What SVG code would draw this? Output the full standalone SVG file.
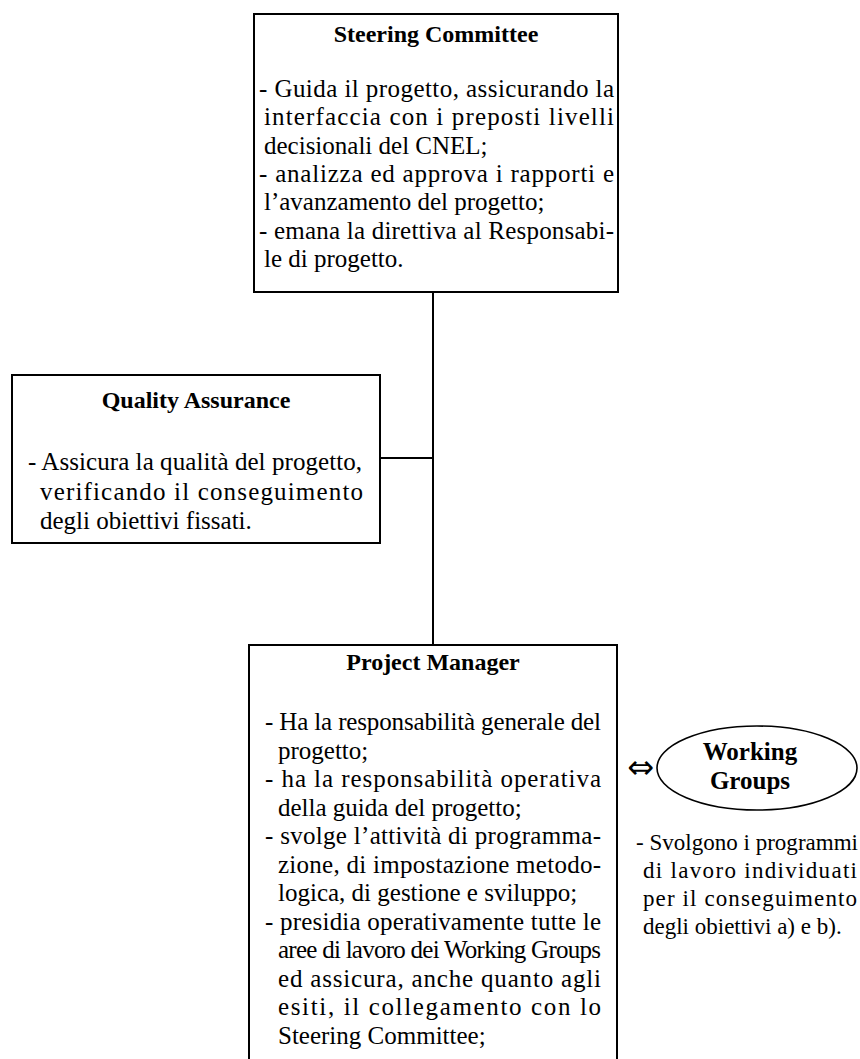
<svg xmlns="http://www.w3.org/2000/svg" width="860" height="1059" viewBox="0 0 860 1059">
<style>
.box{fill:none;stroke:#000;stroke-width:2}
.line{fill:none;stroke:#000;stroke-width:2}
.t{font-family:"Liberation Serif","Times New Roman",serif;font-size:25px;fill:#000}
.h{font-family:"Liberation Serif","Times New Roman",serif;font-size:24px;font-weight:bold;fill:#000;text-anchor:middle}
.w{font-family:"Liberation Serif","Times New Roman",serif;font-size:23px;fill:#000}
.sym{font-family:"DejaVu Sans",sans-serif;font-size:32px;fill:#000;text-anchor:middle}
</style>
<rect width="860" height="1059" fill="#fff"/>
<g id="connectors">
<line class="line" x1="433" y1="292" x2="433" y2="645"/>
<line class="line" x1="380" y1="458" x2="433" y2="458"/>
</g>
<g id="steering-committee">
<rect class="box" x="254" y="14" width="364" height="278"/>
<text class="h" x="436" y="42">Steering Committee</text>
<text class="t" x="259" y="97" textLength="355" lengthAdjust="spacing">- Guida il progetto, assicurando la</text>
<text class="t" x="264" y="125.3" textLength="350" lengthAdjust="spacing">interfaccia con i preposti livelli</text>
<text class="t" x="264" y="153.6">decisionali del CNEL;</text>
<text class="t" x="259" y="182" textLength="355" lengthAdjust="spacing">- analizza ed approva i rapporti e</text>
<text class="t" x="264" y="210.3">l’avanzamento del progetto;</text>
<text class="t" x="259" y="238.6" textLength="355" lengthAdjust="spacing">- emana la direttiva al Responsabi-</text>
<text class="t" x="264" y="267">le di progetto.</text>
</g>
<g id="quality-assurance">
<rect class="box" x="12" y="375" width="368" height="168"/>
<text class="h" x="196" y="408">Quality Assurance</text>
<text class="t" x="28" y="470" textLength="334" lengthAdjust="spacing">- Assicura la qualità del progetto,</text>
<text class="t" x="40" y="499.5" textLength="323" lengthAdjust="spacing">verificando il conseguimento</text>
<text class="t" x="40" y="529">degli obiettivi fissati.</text>
</g>
<g id="project-manager">
<path class="box" d="M249,1062 V645 H617 V1062"/>
<text class="h" x="433" y="670">Project Manager</text>
<text class="t" x="265" y="730" textLength="336" lengthAdjust="spacing">- Ha la responsabilità generale del</text>
<text class="t" x="278" y="758.5">progetto;</text>
<text class="t" x="265" y="787" textLength="336" lengthAdjust="spacing">- ha la responsabilità operativa</text>
<text class="t" x="278" y="815.5">della guida del progetto;</text>
<text class="t" x="265" y="844" textLength="336" lengthAdjust="spacing">- svolge l’attività di programma-</text>
<text class="t" x="278" y="872.5" textLength="323" lengthAdjust="spacing">zione, di impostazione metodo-</text>
<text class="t" x="278" y="901">logica, di gestione e sviluppo;</text>
<text class="t" x="265" y="929.5" textLength="336" lengthAdjust="spacing">- presidia operativamente tutte le</text>
<text class="t" x="278" y="958" textLength="323" lengthAdjust="spacing">aree di lavoro dei Working Groups</text>
<text class="t" x="278" y="986.5" textLength="323" lengthAdjust="spacing">ed assicura, anche quanto agli</text>
<text class="t" x="278" y="1015" textLength="323" lengthAdjust="spacing">esiti, il collegamento con lo</text>
<text class="t" x="278" y="1043.5">Steering Committee;</text>
</g>
<g id="working-groups">
<text class="sym" x="641" y="778">⇔</text>
<ellipse cx="757" cy="768" rx="100" ry="42" fill="none" stroke="#000" stroke-width="1.6"/>
<text class="h" x="750" y="760" style="font-size:25px">Working</text>
<text class="h" x="750" y="789" style="font-size:25px">Groups</text>
<text class="w" x="636" y="850" textLength="222" lengthAdjust="spacing">- Svolgono i programmi</text>
<text class="w" x="643" y="878" textLength="214" lengthAdjust="spacing">di lavoro individuati</text>
<text class="w" x="643" y="906" textLength="214" lengthAdjust="spacing">per il conseguimento</text>
<text class="w" x="643" y="934">degli obiettivi a) e b).</text>
</g>
</svg>
